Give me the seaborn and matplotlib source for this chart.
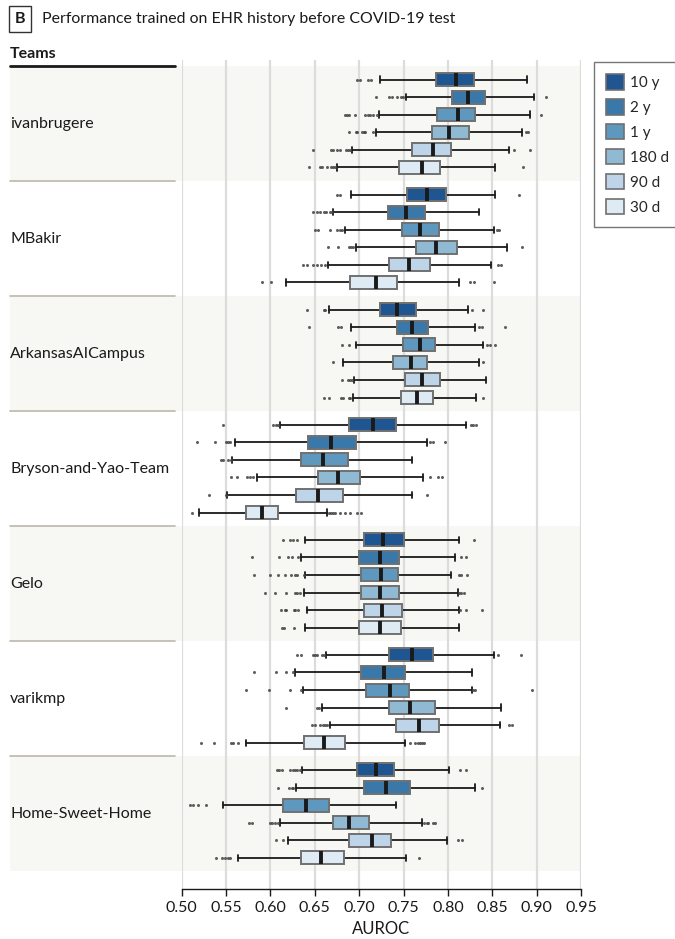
import matplotlib
matplotlib.use("Agg")
import matplotlib.pyplot as plt
import matplotlib.transforms as mtransforms
from matplotlib.patches import Patch, Rectangle
from matplotlib.lines import Line2D
import seaborn as sns

# ---- data -------------------------------------------------------------
TEAMS = ["ivanbrugere", "MBakir", "ArkansasAICampus", "Bryson-and-Yao-Team",
         "Gelo", "varikmp", "Home-Sweet-Home"]
WINDOWS = ["10 y", "2 y", "1 y", "180 d", "90 d", "30 d"]
COLORS = ["#1f5591", "#3a78aa", "#5f98bf", "#90bad4", "#bed4e8", "#deeaf4"]

# per team, per history window (10 y, 2 y, 1 y, 180 d, 90 d, 30 d)
WHISK_LO = [
    [0.724, 0.753, 0.722, 0.719, 0.692, 0.675],
    [0.691, 0.670, 0.684, 0.696, 0.665, 0.618],
    [0.666, 0.691, 0.696, 0.682, 0.694, 0.693],
    [0.611, 0.560, 0.557, 0.585, 0.551, 0.520],
    [0.639, 0.635, 0.639, 0.638, 0.641, 0.639],
    [0.663, 0.628, 0.637, 0.658, 0.667, 0.573],
    [0.636, 0.629, 0.546, 0.611, 0.620, 0.563],
]
Q1 = [
    [0.787, 0.805, 0.788, 0.782, 0.759, 0.745],
    [0.754, 0.733, 0.748, 0.764, 0.734, 0.690],
    [0.724, 0.743, 0.749, 0.738, 0.752, 0.747],
    [0.689, 0.642, 0.635, 0.654, 0.629, 0.572],
    [0.705, 0.700, 0.702, 0.702, 0.705, 0.700],
    [0.734, 0.702, 0.708, 0.734, 0.741, 0.638],
    [0.697, 0.705, 0.614, 0.670, 0.689, 0.635],
]
MEDIAN = [
    [0.809, 0.823, 0.811, 0.801, 0.783, 0.771],
    [0.776, 0.753, 0.769, 0.787, 0.756, 0.719],
    [0.743, 0.760, 0.768, 0.758, 0.771, 0.765],
    [0.716, 0.668, 0.659, 0.676, 0.654, 0.591],
    [0.727, 0.723, 0.725, 0.723, 0.726, 0.723],
    [0.760, 0.728, 0.735, 0.757, 0.767, 0.660],
    [0.719, 0.730, 0.640, 0.688, 0.714, 0.657],
]
Q3 = [
    [0.829, 0.842, 0.831, 0.824, 0.804, 0.791],
    [0.798, 0.774, 0.790, 0.810, 0.780, 0.743],
    [0.764, 0.778, 0.786, 0.777, 0.791, 0.783],
    [0.742, 0.696, 0.687, 0.701, 0.682, 0.609],
    [0.750, 0.745, 0.744, 0.745, 0.748, 0.747],
    [0.783, 0.752, 0.756, 0.785, 0.790, 0.684],
    [0.739, 0.757, 0.666, 0.711, 0.736, 0.683],
]
WHISK_HI = [
    [0.889, 0.897, 0.892, 0.884, 0.869, 0.853],
    [0.853, 0.835, 0.852, 0.867, 0.849, 0.813],
    [0.823, 0.830, 0.840, 0.835, 0.843, 0.832],
    [0.820, 0.776, 0.760, 0.772, 0.759, 0.664],
    [0.813, 0.808, 0.803, 0.811, 0.812, 0.813],
    [0.852, 0.827, 0.827, 0.860, 0.859, 0.752],
    [0.801, 0.830, 0.742, 0.771, 0.799, 0.753],
]
FLIERS = [
    [[0.698, 0.701, 0.710, 0.713],
     [0.719, 0.734, 0.737, 0.743, 0.747, 0.749, 0.911],
     [0.684, 0.686, 0.688, 0.695, 0.707, 0.710, 0.712, 0.716, 0.720, 0.905],
     [0.689, 0.696, 0.698, 0.703, 0.705, 0.707, 0.716, 0.888, 0.890],
     [0.648, 0.668, 0.671, 0.675, 0.678, 0.685, 0.687, 0.690, 0.875, 0.892],
     [0.643, 0.656, 0.658, 0.664, 0.668, 0.670, 0.673, 0.885]],
    [[0.675, 0.678, 0.880],
     [0.648, 0.652, 0.656, 0.660, 0.663, 0.667, 0.669],
     [0.650, 0.654, 0.667, 0.675, 0.678, 0.681, 0.855, 0.858],
     [0.665, 0.676, 0.688, 0.691, 0.693, 0.884],
     [0.637, 0.641, 0.648, 0.652, 0.657, 0.661, 0.856, 0.860],
     [0.590, 0.601, 0.825, 0.829, 0.852]],
    [[0.641, 0.660, 0.662, 0.827, 0.839],
     [0.643, 0.676, 0.679, 0.835, 0.838, 0.864],
     [0.681, 0.689, 0.844, 0.848, 0.853],
     [0.670, 0.839],
     [0.681, 0.687, 0.690, 0.692],
     [0.660, 0.666, 0.680, 0.682, 0.688, 0.690, 0.839]],
    [[0.547, 0.603, 0.606, 0.608, 0.826, 0.828, 0.832],
     [0.517, 0.538, 0.550, 0.552, 0.554, 0.780, 0.783, 0.797],
     [0.544, 0.547, 0.552, 0.556],
     [0.555, 0.562, 0.574, 0.577, 0.580, 0.780, 0.789, 0.793],
     [0.531, 0.550, 0.776],
     [0.512, 0.666, 0.668, 0.670, 0.673, 0.678, 0.684, 0.690, 0.698, 0.702]],
    [[0.614, 0.622, 0.625, 0.630, 0.829],
     [0.579, 0.610, 0.620, 0.624, 0.631, 0.815, 0.820],
     [0.582, 0.599, 0.608, 0.616, 0.623, 0.628, 0.630, 0.638, 0.813, 0.815, 0.822],
     [0.594, 0.605, 0.617, 0.628, 0.630, 0.633, 0.812, 0.815, 0.818],
     [0.612, 0.616, 0.618, 0.626, 0.628, 0.631, 0.814, 0.820, 0.838],
     [0.613, 0.615, 0.627]],
    [[0.630, 0.635, 0.648, 0.650, 0.653, 0.658, 0.660, 0.857, 0.882],
     [0.581, 0.606, 0.618, 0.625],
     [0.572, 0.598, 0.622, 0.634, 0.828, 0.830, 0.895],
     [0.617, 0.652, 0.655],
     [0.647, 0.650, 0.656, 0.659, 0.661, 0.664, 0.869, 0.872],
     [0.522, 0.536, 0.555, 0.558, 0.563, 0.757, 0.763, 0.766, 0.768, 0.771, 0.773]],
    [[0.607, 0.610, 0.613, 0.622, 0.625, 0.628, 0.630, 0.633, 0.814, 0.820],
     [0.609, 0.621, 0.624, 0.625, 0.838],
     [0.509, 0.513, 0.518, 0.527],
     [0.576, 0.579, 0.599, 0.602, 0.605, 0.608, 0.773, 0.776, 0.778, 0.783, 0.786],
     [0.606, 0.614, 0.811, 0.816],
     [0.539, 0.545, 0.549, 0.552, 0.554, 0.767]],
]

# ---- layout constants (figure pixels at 100 dpi) -----------------------
W, H = 675, 939
BAND = 6.55          # rows per team block (6 boxes + padding)
PAD = 0.775          # offset of first box inside a block
BOX_W = 0.74

sns.set_theme(style="white")
plt.rcParams["font.family"] = ["Lato", "DejaVu Sans"]

fig = plt.figure(figsize=(W / 100, H / 100), dpi=100)
ax = fig.add_axes([181.7 / W, 1 - 889 / H, (581 - 181.7) / W, (889 - 60) / H])
ax.set_xlim(0.5, 0.95)
ax.set_ylim(7 * BAND + 1.0, -0.34)

blend = mtransforms.blended_transform_factory(fig.transFigure, ax.transData)

# alternating team blocks and separators in the label column
for i, team in enumerate(TEAMS):
    if i % 2 == 0:
        ax.add_patch(Rectangle((10 / W, i * BAND), (581 - 10) / W, BAND,
                               transform=blend, facecolor="#f7f7f3",
                               edgecolor="none", zorder=0.1, clip_on=False))
    if i > 0:
        ax.add_line(Line2D([10 / W, 175 / W], [i * BAND, i * BAND],
                           transform=blend, color="#bdb8ad", lw=1.2,
                           clip_on=False))
    ax.text(10 / W, i * BAND + BAND / 2, team, transform=blend,
            ha="left", va="center", fontsize=11.5, color="#1a1a1a")

# box statistics -> bxp
stats, positions, facecolors = [], [], []
for i in range(len(TEAMS)):
    for j in range(len(WINDOWS)):
        stats.append(dict(med=MEDIAN[i][j], q1=Q1[i][j], q3=Q3[i][j],
                          whislo=WHISK_LO[i][j], whishi=WHISK_HI[i][j],
                          fliers=FLIERS[i][j]))
        positions.append(i * BAND + PAD + j)
        facecolors.append(COLORS[j])

art = ax.bxp(stats, positions=positions, widths=BOX_W,
             orientation="horizontal", patch_artist=True, manage_ticks=False,
             boxprops=dict(edgecolor="#707070", linewidth=1.4, zorder=3),
             medianprops=dict(color="#1a1a1a", linewidth=2.8, zorder=4),
             whiskerprops=dict(color="#1a1a1a", linewidth=1.3, zorder=2),
             capprops=dict(color="#1a1a1a", linewidth=1.3, zorder=2),
             flierprops=dict(marker="o", markersize=2.2,
                             markerfacecolor="#444444",
                             markeredgecolor="none", alpha=0.85))
for box, fc in zip(art["boxes"], facecolors):
    box.set_facecolor(fc)

# axes styling
ticks = [0.50, 0.55, 0.60, 0.65, 0.70, 0.75, 0.80, 0.85, 0.90, 0.95]
ax.set_xticks(ticks)
ax.set_xticklabels([f"{t:.2f}" for t in ticks])
ax.set_yticks([])
ax.set_axisbelow(True)
ax.grid(axis="x", color="#dcdcdc", linewidth=1.6)
ax.grid(axis="y", visible=False)
for side in ("top", "left", "right"):
    ax.spines[side].set_visible(False)
ax.spines["bottom"].set_color("#1a1a1a")
ax.spines["bottom"].set_linewidth(1.0)
ax.tick_params(axis="x", length=5, width=1, color="#1a1a1a",
               labelsize=11.5, labelcolor="#1a1a1a", pad=4, bottom=True)
ax.set_xlabel("AUROC", fontsize=12, color="#1a1a1a", labelpad=4)
ax.set_facecolor("white")

# header texts
fig.text(15 / W, 1 - 19 / H, "B", ha="left", va="center", fontsize=11.5,
         fontweight="bold", color="#1a1a1a",
         bbox=dict(boxstyle="square,pad=0.35", facecolor="white",
                   edgecolor="#333333", linewidth=1.0))
fig.text(42 / W, 1 - 19 / H, "Performance trained on EHR history before COVID-19 test",
         ha="left", va="center", fontsize=11.4, color="#1a1a1a")
fig.text(10 / W, 1 - 54 / H, "Teams", ha="left", va="center", fontsize=11.5,
         fontweight="bold", color="#1a1a1a")
fig.add_artist(Line2D([10 / W, 175 / W], [1 - 66 / H, 1 - 66 / H],
                      transform=fig.transFigure, color="#1a1a1a", lw=2))

# legend
handles = [Patch(facecolor=c, edgecolor="#707070", linewidth=1.2, label=w)
           for c, w in zip(COLORS, WINDOWS)]
leg = fig.legend(handles=handles, loc="upper left",
                 bbox_to_anchor=(594 / W, 1 - 62 / H), frameon=True,
                 fancybox=False, edgecolor="#555555", fontsize=11,
                 handlelength=1.18, handleheight=1.18, labelspacing=0.59,
                 handletextpad=0.4, borderpad=0.8, borderaxespad=0)
leg.get_frame().set_linewidth(1.0)

fig.savefig("out.png", dpi=100, facecolor="white")
